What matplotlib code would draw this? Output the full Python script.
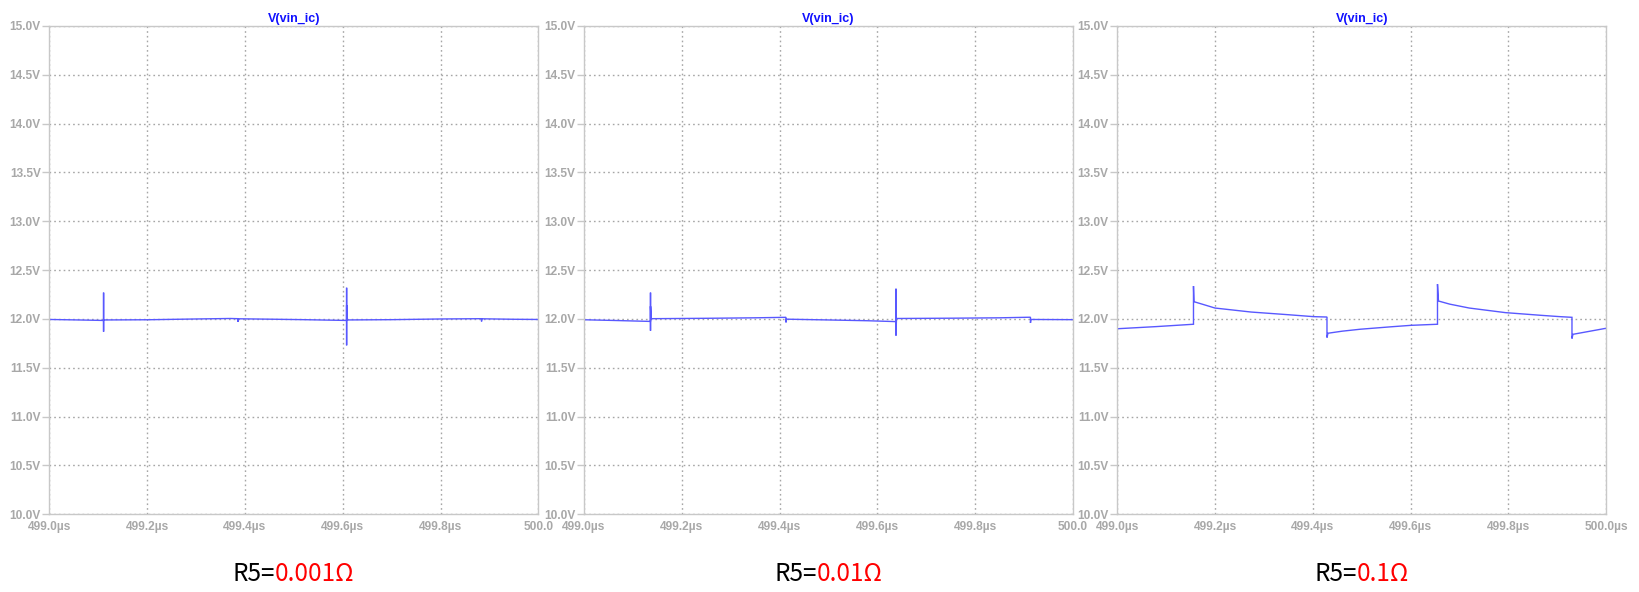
import matplotlib
matplotlib.use("Agg")
import matplotlib.pyplot as plt
from matplotlib.offsetbox import TextArea, HPacker, AnnotationBbox

# ---------------- data ----------------
t_r1 = [499.000, 499.060, 499.111, 499.111, 499.111, 499.111, 499.200, 499.300,
        499.370, 499.386, 499.386, 499.386, 499.450, 499.520, 499.608, 499.608,
        499.608, 499.608, 499.608, 499.700, 499.800, 499.884, 499.884, 499.884,
        499.950, 500.000]
v_r1 = [11.995, 11.990, 11.985, 12.270, 11.870, 11.990, 11.992, 12.000,
        12.005, 12.003, 11.970, 12.002, 11.998, 11.993, 11.985, 12.320,
        11.730, 12.140, 11.990, 11.993, 12.000, 12.003, 11.975, 12.002,
        11.997, 11.995]

t_r2 = [499.000, 499.060, 499.136, 499.136, 499.136, 499.136, 499.137, 499.250,
        499.350, 499.413, 499.413, 499.414, 499.500, 499.580, 499.638, 499.638,
        499.638, 499.639, 499.750, 499.850, 499.913, 499.913, 499.914, 500.000]
v_r2 = [11.992, 11.985, 11.975, 12.270, 11.880, 12.130, 12.003, 12.007,
        12.012, 12.017, 11.965, 11.998, 11.990, 11.982, 11.973, 12.310,
        11.830, 12.005, 12.008, 12.012, 12.018, 11.960, 11.995, 11.993]

t_r3 = [499.000, 499.080, 499.156, 499.156, 499.157, 499.175, 499.200, 499.274,
        499.349, 499.401, 499.429, 499.429, 499.431, 499.460, 499.497, 499.560,
        499.601, 499.655, 499.655, 499.657, 499.680, 499.720, 499.794, 499.868,
        499.905, 499.930, 499.930, 499.932, 500.000]
v_r3 = [11.900, 11.922, 11.946, 12.337, 12.177, 12.150, 12.112, 12.071,
        12.044, 12.024, 12.020, 11.810, 11.854, 11.875, 11.895, 11.920,
        11.935, 11.946, 12.357, 12.184, 12.152, 12.112, 12.065, 12.037,
        12.024, 12.017, 11.800, 11.843, 11.905]

series_t = [t_r1, t_r2, t_r3]
series_v = [v_r1, v_r2, v_r3]
r5_values = ["0.001Ω", "0.01Ω", "0.1Ω"]
trace_name = "V(vin_ic)"
x_ticks = [499.0, 499.2, 499.4, 499.6, 499.8, 500.0]
x_labels_full = ["499.0µs", "499.2µs", "499.4µs", "499.6µs", "499.8µs", "500.0µs"]
x_labels_cut = ["499.0µs", "499.2µs", "499.4µs", "499.6µs", "499.8µs", "500.0"]
y_ticks = [10.0, 10.5, 11.0, 11.5, 12.0, 12.5, 13.0, 13.5, 14.0, 14.5, 15.0]
y_labels = ["%.1fV" % v for v in y_ticks]

# ---------------- layout ----------------
W, H = 1639, 592
fig = plt.figure(figsize=(W / 100, H / 100), dpi=100)
lefts = [49.3, 584.0, 1117.2]
ax_w = 489.0
top_px, bot_px = 26.0, 514.3

tick_gray = "#a8a8a8"
spine_gray = "#c8c8c8"
grid_gray = "#a6a6a6"
line_blue = "#5858ff"

for i in range(3):
    ax = fig.add_axes([lefts[i] / W, 1 - bot_px / H, ax_w / W, (bot_px - top_px) / H])
    ax.plot(series_t[i], series_v[i], color=line_blue, lw=1.0, solid_joinstyle="miter")
    ax.set_xlim(499.0, 500.0)
    ax.set_ylim(10.0, 15.0)
    ax.set_xticks(x_ticks)
    ax.set_xticklabels(x_labels_full if i == 2 else x_labels_cut)
    ax.set_yticks(y_ticks)
    ax.set_yticklabels(y_labels)
    for lab in ax.get_xticklabels() + ax.get_yticklabels():
        lab.set_fontfamily("Liberation Sans")
        lab.set_fontweight("bold")
        lab.set_fontsize(8.6)
        lab.set_color(tick_gray)
    ax.tick_params(axis="x", length=0, pad=5)
    ax.tick_params(axis="y", length=5.2, width=1.0, color=spine_gray, pad=1)
    for s in ax.spines.values():
        s.set_color(spine_gray)
        s.set_linewidth(1.0)
    ax.grid(True, color=grid_gray, linestyle=(0, (1.2, 2.2)), linewidth=1.0)
    ax.set_axisbelow(True)
    ax.set_title(trace_name, color="#1010ff", fontsize=9, fontweight="bold",
                 fontfamily="Liberation Sans", pad=3)

    ta1 = TextArea("R5=", textprops=dict(color="black", fontsize=17.5,
                                          family=["Noto Sans CJK SC", "DejaVu Sans"]))
    ta2 = TextArea(r5_values[i], textprops=dict(color="#ff0000", fontsize=17.5,
                                                 family=["Noto Sans CJK SC", "DejaVu Sans"]))
    box = HPacker(children=[ta1, ta2], align="baseline", pad=0, sep=0)
    cx = (lefts[i] + ax_w / 2) / W
    ab = AnnotationBbox(box, (cx, 1 - 574 / H), xycoords="figure fraction",
                        frameon=False, box_alignment=(0.5, 0.5), pad=0)
    fig.add_artist(ab)

fig.savefig("out.png", dpi=100)
